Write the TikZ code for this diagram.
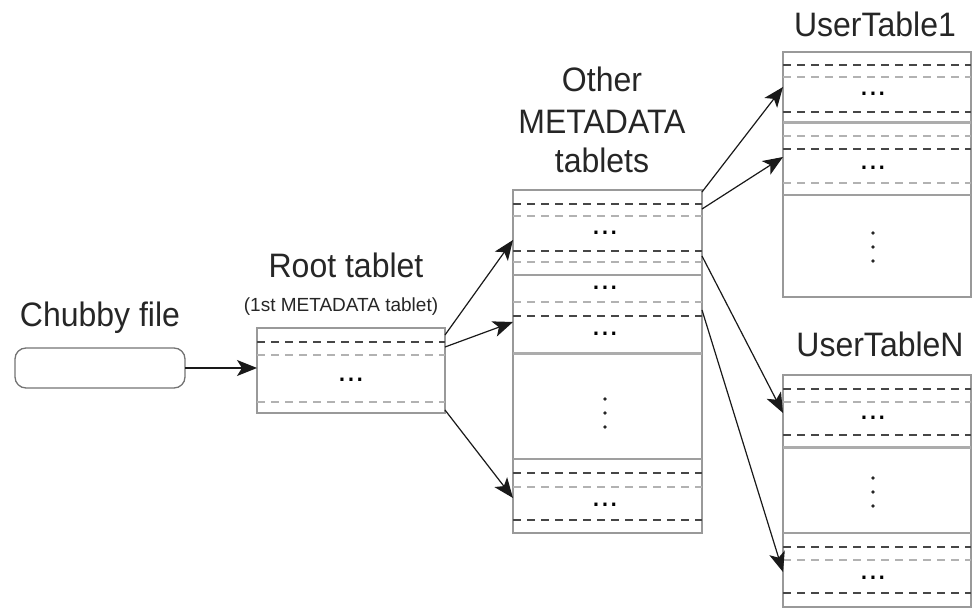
\documentclass[tikz,border=0pt]{standalone}
\usepackage{fontspec}
\setmainfont{Liberation Sans}
\usetikzlibrary{arrows.meta}

\tikzset{
  tablebox/.style={draw=gray!80,line width=1.3pt,inner sep=0pt,outer sep=0pt},
  chubbybox/.style={draw=gray!90!black,line width=1.3pt,rounded corners=11pt,inner sep=0pt,outer sep=0pt},
  darkdash/.style={gray!55!black,line width=1.6pt,dash pattern=on 8pt off 6pt},
  lightdash/.style={gray!60,line width=1.6pt,dash pattern=on 8pt off 6pt},
  thinsep/.style={gray!75,line width=1.5pt},
  thicksep/.style={gray!65,line width=3pt},
  bigtext/.style={font=\fontsize{32}{38}\selectfont,text=black!85,inner sep=0pt,yscale=1.06},
  smalltext/.style={font=\fontsize{19}{22}\selectfont,text=black!85,inner sep=0pt},
  hdots/.style={font=\fontsize{32}{14}\selectfont,inner sep=0pt},
  dotfill/.style={black!85},
  link/.style={gray!20!black,line width=1.2pt,-{Stealth[length=20pt,width=16pt,inset=5pt]}}
}

\begin{document}
\begin{tikzpicture}[x=1pt,y=-1pt]
\useasboundingbox (0,0) rectangle (978,609);

% labels
\node[bigtext,anchor=base] (chubbylabel) at (100,327) {Chubby file};
\node[bigtext,anchor=base] (rootlabel) at (346,278) {Root tablet};
\node[smalltext,anchor=base] (rootnote) at (341,312) {(1st METADATA tablet)};
\node[bigtext,anchor=base] (metaother) at (602,92) {Other};
\node[bigtext,anchor=base] (metalabel) at (602,134) {METADATA};
\node[bigtext,anchor=base] (metatablets) at (602,173) {tablets};
\node[bigtext,anchor=base] (ut1label) at (875,37) {UserTable1};
\node[bigtext,anchor=base] (utnlabel) at (880,357) {UserTableN};

% boxes
\node[chubbybox,minimum width=170pt,minimum height=40pt] (chubby) at (100,368) {};
\node[tablebox,minimum width=188pt,minimum height=85pt] (root) at (351,370.5) {};
\node[tablebox,minimum width=189pt,minimum height=343pt] (meta) at (607.5,361.5) {};
\node[tablebox,minimum width=188pt,minimum height=245pt] (ut1) at (877,174.5) {};
\node[tablebox,minimum width=188pt,minimum height=232pt] (utn) at (877,491) {};

% root tablet rows
\draw[darkdash] (257,342) -- (445,342);
\draw[lightdash]
(257,355) -- (445,355)
(257,402) -- (445,402);
\node[hdots] (rootdots) at (351,380) {...};

% metadata tablet rows
\draw[darkdash]
(513,204) -- (702,204)
(513,251) -- (702,251)
(513,316) -- (702,316)
(513,473) -- (702,473)
(513,520) -- (702,520);
\draw[lightdash]
(513,216) -- (702,216)
(513,262) -- (702,262)
(513,302) -- (702,302)
(513,487) -- (702,487);
\draw[thinsep]
(513,275) -- (702,275)
(513,459) -- (702,459);
\draw[thicksep] (513,354) -- (702,354);
\node[hdots] (metadots1) at (605,233) {...};
\node[hdots] (metadots2) at (605,288) {...};
\node[hdots] (metadots3) at (605,334) {...};
\fill[dotfill] (605,399) circle (1.9) (605,413) circle (1.9) (605,427) circle (1.9);
\node[hdots] (metadots4) at (605,505) {...};

% usertable1 rows
\draw[darkdash]
(783,65) -- (971,65)
(783,112) -- (971,112)
(783,149) -- (971,149);
\draw[lightdash]
(783,77) -- (971,77)
(783,136) -- (971,136)
(783,183) -- (971,183);
\draw[thicksep] (783,123) -- (971,123);
\draw[thinsep] (783,195) -- (971,195);
\node[hdots] (ut1dots1) at (873,94) {...};
\node[hdots] (ut1dots2) at (873,168) {...};
\fill[dotfill] (873,233) circle (1.9) (873,247) circle (1.9) (873,261) circle (1.9);

% usertableN rows
\draw[darkdash]
(783,389) -- (971,389)
(783,435) -- (971,435)
(783,547) -- (971,547)
(783,593) -- (971,593);
\draw[lightdash]
(783,402) -- (971,402)
(783,560) -- (971,560);
\draw[thicksep] (783,448) -- (971,448);
\draw[thinsep] (783,533) -- (971,533);
\node[hdots] (utndots1) at (873,418) {...};
\fill[dotfill] (873,478) circle (1.9) (873,492) circle (1.9) (873,506) circle (1.9);
\node[hdots] (utndots2) at (873,578) {...};

% pointers
\draw[link] (chubby.east) -- (root.west |- chubby.east);
\draw[link] ([yshift=-7pt]root.north east) -- ([yshift=-50pt]meta.north west);
\draw[link] ([yshift=-19pt]root.north east) -- ([yshift=-132pt]meta.north west);
\draw[link] ([yshift=3pt]root.south east) -- ([yshift=35pt]meta.south west);
\draw[link] ([yshift=-2pt]meta.north east) -- ([yshift=-35pt]ut1.north west);
\draw[link] ([yshift=-19pt]meta.north east) -- ([yshift=-105pt]ut1.north west);
\draw[link] ([yshift=-66pt]meta.north east) -- ([yshift=-38pt]utn.north west);
\draw[link] ([yshift=-120pt]meta.north east) -- ([yshift=35pt]utn.south west);
\end{tikzpicture}
\end{document}
